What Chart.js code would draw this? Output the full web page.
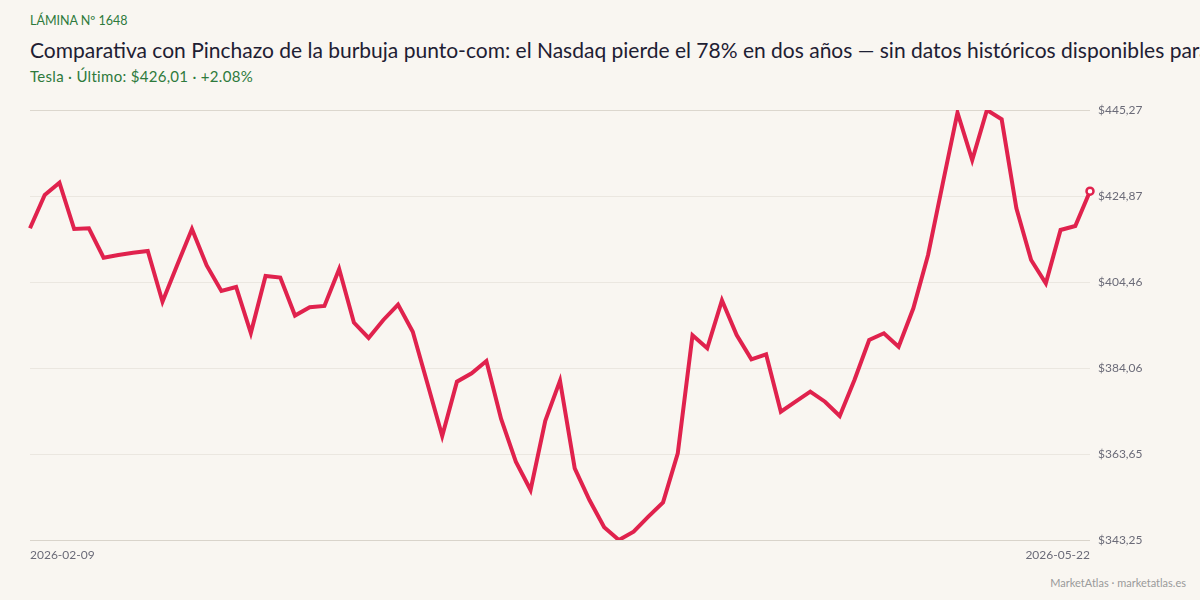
<!DOCTYPE html>
<html>
<head>
<meta charset="utf-8">
<script src="https://cdn.jsdelivr.net/npm/chart.js@4"></script>
<style>
  html, body { margin:0; padding:0; background:#f9f6f1; }
  body { width:1200px; height:600px; position:relative; overflow:hidden; font-family: Lato, "Open Sans", sans-serif; }
  #kicker { position:absolute; left:30px; top:13px; font-size:12.5px; color:#2e7a3c; white-space:nowrap; }
  #title { position:absolute; left:30px; top:37px; font-size:21px; color:#1e2033; white-space:nowrap; }
  #sub { position:absolute; left:30px; top:67px; font-size:15px; letter-spacing:0.3px; color:#2e7a3c; white-space:nowrap; }
  #foot { position:absolute; right:14px; top:576px; font-size:11px; color:#9a9a9a; white-space:nowrap; }
  #wrap { position:absolute; left:0; top:0; width:1200px; height:600px; }
</style>
</head>
<body>
<div id="kicker">LÁMINA Nº 1648</div>
<div id="title">Comparativa con Pinchazo de la burbuja punto-com: el Nasdaq pierde el 78% en dos años — sin datos históricos disponibles para Tesla</div>
<div id="sub">Tesla · Último: $426,01 · +2.08%</div>
<div id="foot">MarketAtlas · marketatlas.es</div>
<div id="wrap"><canvas id="c" width="1200" height="600"></canvas></div>
<script>
const dates = [
  "2026-02-09","2026-02-10","2026-02-11","2026-02-12","2026-02-13",
  "2026-02-17","2026-02-18","2026-02-19","2026-02-20",
  "2026-02-23","2026-02-24","2026-02-25","2026-02-26","2026-02-27",
  "2026-03-02","2026-03-03","2026-03-04","2026-03-05","2026-03-06",
  "2026-03-09","2026-03-10","2026-03-11","2026-03-12","2026-03-13",
  "2026-03-16","2026-03-17","2026-03-18","2026-03-19","2026-03-20",
  "2026-03-23","2026-03-24","2026-03-25","2026-03-26","2026-03-27",
  "2026-03-30","2026-03-31","2026-04-01","2026-04-02",
  "2026-04-06","2026-04-07","2026-04-08","2026-04-09","2026-04-10",
  "2026-04-13","2026-04-14","2026-04-15","2026-04-16","2026-04-17",
  "2026-04-20","2026-04-21","2026-04-22","2026-04-23","2026-04-24",
  "2026-04-27","2026-04-28","2026-04-29","2026-04-30",
  "2026-05-01","2026-05-04","2026-05-05","2026-05-06","2026-05-07","2026-05-08",
  "2026-05-11","2026-05-12","2026-05-13","2026-05-14","2026-05-15",
  "2026-05-18","2026-05-19","2026-05-20","2026-05-21","2026-05-22"
];
const closes = [
  417.20, 425.10, 428.02, 417.04, 417.20, 410.23, 410.87, 411.41, 411.82, 399.79,
  408.50, 417.04, 408.38, 402.33, 403.28, 392.36, 405.89, 405.53, 396.51, 398.46,
  398.77, 407.55, 394.85, 391.18, 395.45, 399.12, 392.67, 380.33, 367.92, 380.81,
  382.80, 385.72, 371.96, 361.83, 355.11, 371.55, 381.05, 360.26, 352.74, 346.26,
  343.25, 345.22, 348.78, 352.19, 363.82, 391.82, 388.73, 400.12, 391.89, 386.12,
  387.31, 373.69, 376.06, 378.44, 376.06, 372.67, 381.21, 390.70, 392.29, 389.11,
  398.22, 410.87, 427.88, 444.63, 433.41, 445.27, 443.06, 421.95, 409.68, 404.15,
  416.80, 417.75, 426.01
];
const yMin = Math.min(...closes);
const yMax = Math.max(...closes);
const yTickCount = 6;

const fmt = v => "$" + v.toFixed(2).replace(".", ",");
const lastIdx = closes.length - 1;
const red = "#e0224d";

new Chart(document.getElementById("c"), {
  type: "line",
  data: {
    labels: dates,
    datasets: [{
      data: closes,
      borderColor: red,
      borderWidth: 4,
      tension: 0,
      fill: false,
      pointRadius: ctx => ctx.dataIndex === lastIdx ? 3.5 : 0,
      pointBackgroundColor: "#ffffff",
      pointBorderColor: red,
      pointBorderWidth: 2.5,
      pointHoverRadius: 0
    }]
  },
  options: {
    responsive: false,
    animation: false,
    layout: { padding: { left: 30, top: 110, right: 0, bottom: 0 } },
    plugins: { legend: { display: false }, tooltip: { enabled: false }, title: { display: false } },
    scales: {
      x: {
        type: "category",
        offset: false,
        grid: { display: false, drawTicks: false },
        border: { display: false },
        ticks: {
          autoSkip: false,
          maxRotation: 0,
          minRotation: 0,
          align: "inner",
          padding: 8,
          color: "#6b6b78",
          font: { family: "Lato", size: 12 },
          callback: function(val, i) { return (i === 0 || i === lastIdx) ? dates[i] : ""; }
        },
        afterFit: s => { s.height = 60; }
      },
      y: {
        position: "right",
        min: yMin,
        max: yMax,
        grid: {
          drawTicks: false,
          color: ctx => (ctx.index === 0) ? "#d9d4cb" : (ctx.index === yTickCount - 1 ? "#dcd7ce" : "#ebe7e0"),
          lineWidth: 1
        },
        border: { display: false },
        afterBuildTicks: s => {
          const t = [];
          for (let i = 0; i < yTickCount; i++) t.push({ value: yMin + (yMax - yMin) * i / (yTickCount - 1) });
          s.ticks = t;
        },
        ticks: {
          padding: 8,
          color: "#6b6b78",
          font: { family: "Lato", size: 12 },
          callback: v => fmt(v)
        },
        afterFit: s => { s.width = 110; }
      }
    }
  }
});
</script>
</body>
</html>
